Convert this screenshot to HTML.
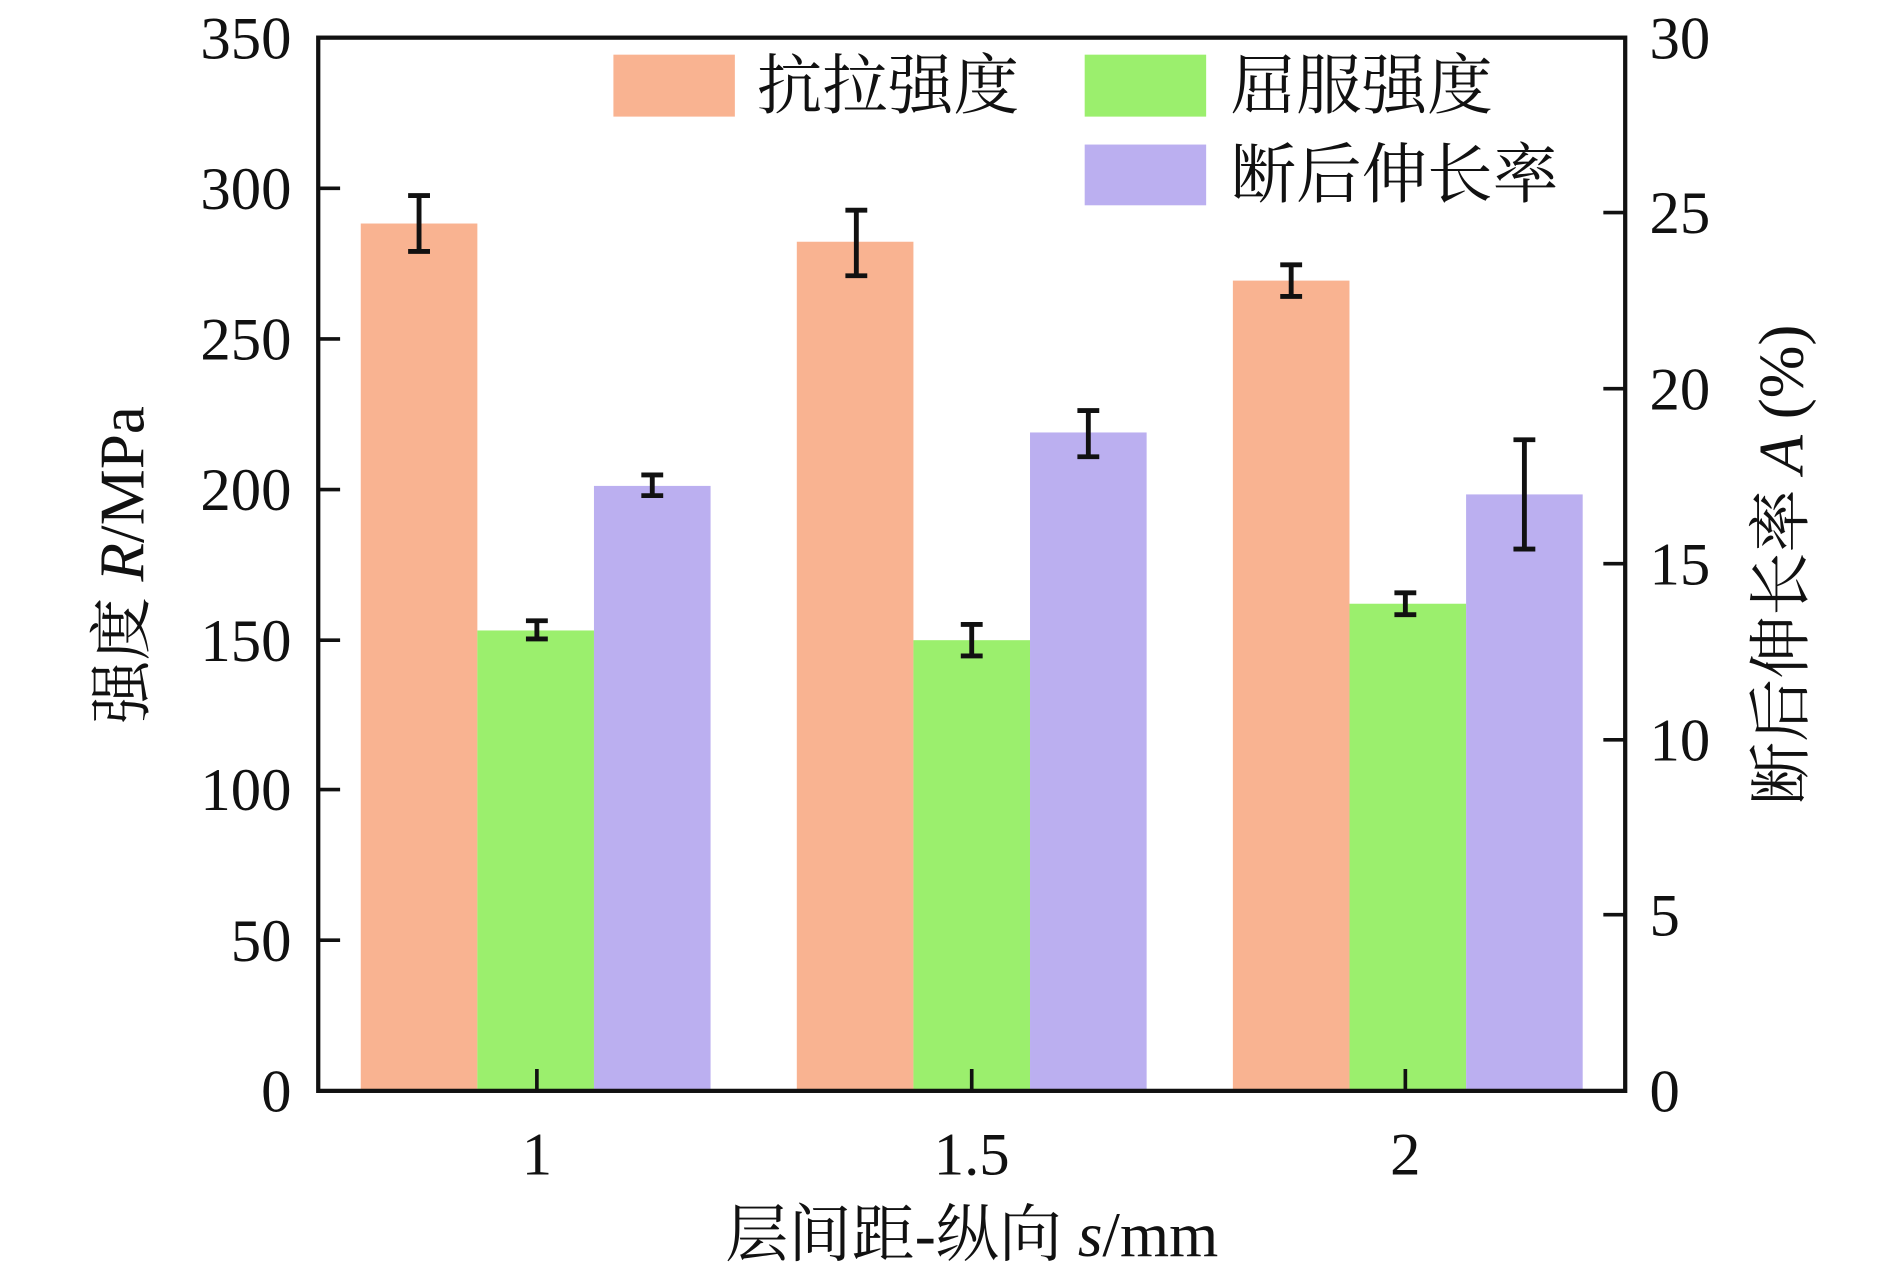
<!DOCTYPE html><html><head><style>html,body{margin:0;padding:0;background:#fff}</style></head><body>
<svg width="1890" height="1267" viewBox="0 0 1556 1043" preserveAspectRatio="none" xmlns="http://www.w3.org/2000/svg" font-family="'Liberation Serif','Noto Serif CJK SC',serif">
<g>
<rect x="297" y="184" width="96" height="714" fill="#f9b391"/>
<rect x="393" y="519" width="96" height="379" fill="#9bef6d"/>
<rect x="489" y="400" width="96" height="498" fill="#bbaff0"/>
<rect x="656" y="199" width="96" height="699" fill="#f9b391"/>
<rect x="752" y="527" width="96" height="371" fill="#9bef6d"/>
<rect x="848" y="356" width="96" height="542" fill="#bbaff0"/>
<rect x="1015" y="231" width="96" height="667" fill="#f9b391"/>
<rect x="1111" y="497" width="96" height="401" fill="#9bef6d"/>
<rect x="1207" y="407" width="96" height="491" fill="#bbaff0"/>
</g>
<g stroke="#111" stroke-width="4" fill="none">
<path d="M345 161V207M336 161H354M336 207H354"/>
<path d="M705 173V227M696 173H714M696 227H714"/>
<path d="M1063 218V244M1054 218H1072M1054 244H1072"/>
<path d="M442 511V526M433 511H451M433 526H451"/>
<path d="M800 514V540M791 514H809M791 540H809"/>
<path d="M1157 488V506M1148 488H1166M1148 506H1166"/>
<path d="M537 391V408M528 391H546M528 408H546"/>
<path d="M896 338V376M887 338H905M887 376H905"/>
<path d="M1255 362V452M1246 362H1264M1246 452H1264"/>
</g>
<rect x="262" y="31" width="1076" height="867" fill="none" stroke="#111" stroke-width="3.5"/>
<g stroke="#111" stroke-width="3">
<path d="M262 774H280M262 650H280M262 527H280M262 403H280M262 279H280M262 155H280"/>
<path d="M1320 753H1338M1320 609H1338M1320 464H1338M1320 320H1338M1320 175H1338"/>
<path d="M442 898V880M800 898V880M1157 898V880"/>
</g>
<g font-size="50" fill="#111" text-anchor="end">
<text x="240" y="915">0</text><text x="240" y="791">50</text><text x="240" y="667">100</text><text x="240" y="544">150</text><text x="240" y="420">200</text><text x="240" y="296">250</text><text x="240" y="172">300</text><text x="240" y="48">350</text>
</g>
<g font-size="50" fill="#111">
<text x="1358" y="915">0</text><text x="1358" y="770">5</text><text x="1358" y="626">10</text><text x="1358" y="481">15</text><text x="1358" y="337">20</text><text x="1358" y="192">25</text><text x="1358" y="48">30</text>
</g>
<g font-size="50" fill="#111" text-anchor="middle">
<text x="442" y="967">1</text><text x="800" y="967">1.5</text><text x="1157" y="967">2</text>
<text x="800" y="1034" font-size="52">层间距-纵向 <tspan font-style="italic">s</tspan>/mm</text>
<text transform="translate(118,465) rotate(-90)" font-size="52">强度 <tspan font-style="italic">R</tspan>/MPa</text>
<text transform="translate(1484,465) rotate(-90)" font-size="52">断后伸长率 <tspan font-style="italic">A</tspan> (%)</text>
</g>
<rect x="505" y="45" width="100" height="51" fill="#f9b391"/>
<rect x="893" y="45" width="100" height="51" fill="#9bef6d"/>
<rect x="893" y="119" width="100" height="50" fill="#bbaff0"/>
<g font-size="54" fill="#111">
<text x="623" y="89">抗拉强度</text>
<text x="1013" y="89">屈服强度</text>
<text x="1013" y="162">断后伸长率</text>
</g>
</svg>
</body></html>
